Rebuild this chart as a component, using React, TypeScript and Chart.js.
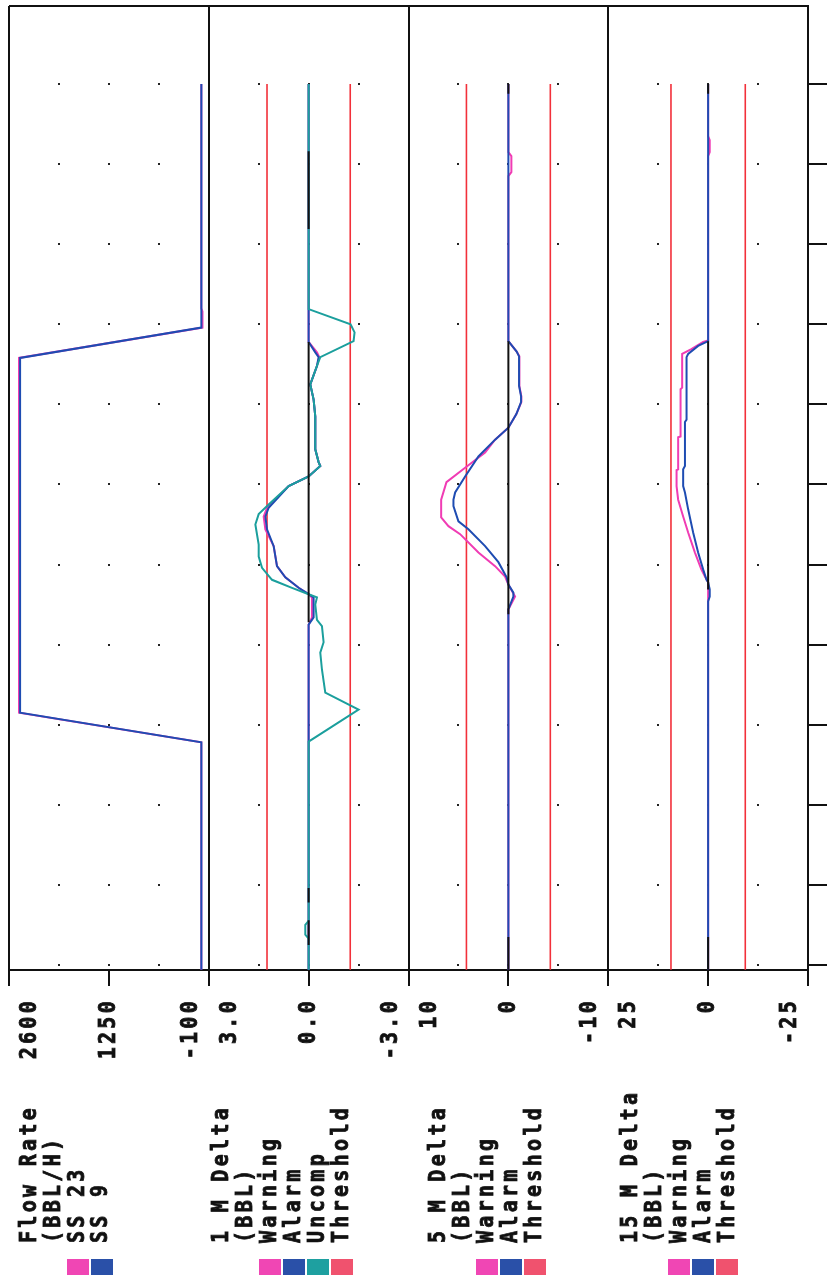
import React, { useEffect, useRef } from 'react';
import { Chart, registerables } from 'chart.js';

Chart.register(...registerables);

// ---------- time axis (grid units, 0 = bottom) ----------
const timeTicks = [0, 1, 2, 3, 4, 5, 6, 7, 8, 9, 10, 11];
const timeMin = -0.0625;
const timeMax = 11.975;

// ---------- Panel 1: Flow Rate (BBL/H) ----------
const flowTickValues = [2600, 1250, -100];
const flowTickLabels = ['2600', '1250', '-100'];
const flowTimeSS23 = [11, 8.2, 8.16, 7.96, 7.58, 3.15, 2.78, -0.06];
const flowSS23 = [0, 0, -15, -15, 2465, 2465, 0, 0];
const flowTimeSS9 = [11, 7.96, 7.58, 3.15, 2.78, -0.06];
const flowSS9 = [0, 0, 2450, 2450, 0, 0];

// ---------- Panel 2: 1 M Delta (BBL) ----------
const d1TickValues = [3, 0, -3];
const d1TickLabels = ['3.0', '0.0', '-3.0'];
const d1Threshold = [1.25, -1.25];
const d1WarnTime = [11, 7.78, 7.65, 7.59, 7.48, 7.25, 7.06, 6.85, 6.44, 6.28, 6.23, 6.1, 5.98, 5.71, 5.6, 5.44, 5.23, 4.98, 4.84, 4.71, 4.63, 4.59, 4.34, 4.25, -0.06];
const d1Warning = [0, 0, -0.25, -0.32, -0.25, -0.05, -0.15, -0.2, -0.2, -0.3, -0.35, 0, 0.6, 1.25, 1.35, 1.3, 1.05, 0.95, 0.7, 0.3, 0, -0.1, -0.1, 0, 0];
const d1AlarmTime = [11, 7.78, 7.65, 7.59, 7.48, 7.25, 7.06, 6.85, 6.44, 6.28, 6.23, 6.1, 5.98, 5.71, 5.6, 5.44, 5.23, 4.98, 4.84, 4.71, 4.63, 4.59, 4.34, 4.25, -0.06];
const d1Alarm = [0, 0, -0.2, -0.3, -0.25, -0.05, -0.15, -0.2, -0.2, -0.3, -0.35, 0, 0.6, 1.2, 1.3, 1.25, 1.05, 0.95, 0.7, 0.3, 0, -0.15, -0.15, 0, 0];
const d1UncompTime = [11, 8.19, 8.0, 7.9, 7.79, 7.59, 7.48, 7.25, 7.06, 6.85, 6.44, 6.28, 6.23, 6.1, 5.98, 5.75, 5.63, 5.5, 5.25, 5.1, 4.96, 4.81, 4.71, 4.63, 4.59, 4.5, 4.31, 4.23, 4.03, 3.9, 3.69, 3.4, 3.19, 2.79, 0.55, 0.5, 0.38, 0.33, -0.06];
const d1Uncomp = [0, 0, -1.26, -1.38, -1.35, -0.35, -0.25, -0.05, -0.15, -0.2, -0.2, -0.3, -0.35, 0, 0.6, 1.2, 1.5, 1.6, 1.5, 1.5, 1.4, 1.1, 0.5, 0, -0.25, -0.2, -0.25, -0.4, -0.45, -0.35, -0.4, -0.5, -1.5, 0, 0, 0.1, 0.1, 0, 0];
const d1ZeroSegments = [[10.16, 9.19], [7.78, 4.28], [0.96, 0.78], [0.56, 0.25]];

// ---------- Panel 3: 5 M Delta (BBL) ----------
const d5TickValues = [10, 0, -10];
const d5TickLabels = ['10', '0', '-10'];
const d5Threshold = [4.2, -4.2];
const d5WarnTime = [11, 10.15, 10.1, 9.9, 9.85, 7.79, 7.66, 7.6, 7.23, 7.1, 7.03, 6.88, 6.71, 6.56, 6.4, 6.21, 6.03, 5.81, 5.59, 5.48, 5.38, 5.15, 4.98, 4.85, 4.75, 4.6, 4.44, -0.06];
const d5Warning = [0, 0, -0.3, -0.3, 0, 0, -0.83, -1.1, -1.1, -1.3, -1.3, -0.8, 0, 1.33, 2.33, 4.33, 6.2, 6.73, 6.73, 6.0, 4.83, 3.0, 1.33, 0.33, 0, -0.67, 0, 0];
const d5AlarmTime = [11, 7.79, 7.66, 7.6, 7.23, 7.1, 7.03, 6.88, 6.71, 6.56, 6.35, 6.1, 5.9, 5.81, 5.73, 5.54, 5.44, 5.23, 5.03, 4.84, 4.75, 4.65, 4.6, 4.44, -0.06];
const d5Alarm = [0, 0, -0.83, -1.07, -1.07, -1.27, -1.27, -0.8, 0, 1.33, 3.0, 4.33, 5.33, 5.5, 5.5, 5.0, 4.0, 2.33, 1.0, 0.17, 0, -0.5, -0.5, 0, 0];
const d5ZeroSegments = [[11, 10.88], [7.79, 4.38], [0.35, -0.06]];

// ---------- Panel 4: 15 M Delta (BBL) ----------
const d15TickValues = [25, 0, -25];
const d15TickLabels = ['25', '0', '-25'];
const d15Threshold = [9.3, -9.3];
const d15WarnTime = [11, 10.35, 10.3, 10.15, 10.1, 7.8, 7.78, 7.69, 7.63, 7.21, 7.19, 6.6, 6.59, 6.19, 6.18, 5.98, 5.81, 5.6, 5.4, 5.15, 4.94, 4.85, 4.78, -0.06];
const d15Warning = [0, 0, -0.4, -0.4, 0, 0, 1.25, 4.2, 6.5, 6.5, 6.9, 6.9, 7.5, 7.5, 7.9, 7.9, 7.5, 6.25, 5.0, 3.3, 1.7, 0.8, 0, 0];
const d15AlarmTime = [11, 7.79, 7.73, 7.63, 7.59, 6.81, 6.78, 6.23, 6.19, 5.98, 5.9, 5.69, 5.4, 5.15, 4.94, 4.81, 4.78, 4.69, 4.6, 4.54, -0.06];
const d15Alarm = [0, 0, 2.5, 5, 5.4, 5.4, 5.8, 5.8, 6.25, 6.25, 5.8, 5.0, 3.75, 2.5, 1.25, 0.4, 0, -0.4, -0.4, 0, 0];
const d15ZeroSegments = [[11, 10.88], [7.79, 4.69], [0.35, -0.06]];

const thresholdTime = [11, -0.06];

// ---------- legends ----------
const flowLegend = ['Flow Rate', '(BBL/H)', 'SS 23', 'SS 9'];
const d1Legend = ['1 M Delta', '(BBL)', 'Warning', 'Alarm', 'Uncomp', 'Threshold'];
const d5Legend = ['5 M Delta', '(BBL)', 'Warning', 'Alarm', 'Threshold'];
const d15Legend = ['15 M Delta', '(BBL)', 'Warning', 'Alarm', 'Threshold'];

const PINK = '#f03cb4';
const BLUE = '#1e4cb2';
const TEAL = '#1b9f9d';
const RED = '#f2303a';
const SW_PINK = '#f046b4';
const SW_BLUE = '#2a50a8';
const SW_TEAL = '#1ea0a0';
const SW_RED = '#f0526e';

const flowSwatches = [SW_PINK, SW_BLUE];
const d1Swatches = [SW_PINK, SW_BLUE, SW_TEAL, SW_RED];
const d5Swatches = [SW_PINK, SW_BLUE, SW_RED];
const d15Swatches = [SW_PINK, SW_BLUE, SW_RED];

const FONT = 'bold 20px "DejaVu Sans Mono"';

const pts = (times: number[], vals: number[]) => times.map((t, i) => ({ x: vals[i], y: t }));

const line = (axis: string, times: number[], vals: number[], color: string, width = 2) => ({
  xAxisID: axis,
  yAxisID: 'y',
  data: pts(times, vals),
  borderColor: color,
  borderWidth: width,
  pointRadius: 0,
  tension: 0,
  fill: false,
});

const zeroLines = (axis: string, segs: number[][]) =>
  segs.map((s) => line(axis, s, [0, 0], '#111111', 2));

const thresholds = (axis: string, thr: number[]) =>
  thr.map((v) => line(axis, thresholdTime, [v, v], RED, 1.6));

const panelAxes = ['x1', 'x2', 'x3', 'x4'];
const panelTicks = [
  { values: flowTickValues, labels: flowTickLabels },
  { values: d1TickValues, labels: d1TickLabels },
  { values: d5TickValues, labels: d5TickLabels },
  { values: d15TickValues, labels: d15TickLabels },
];
const panelLegends = [
  { lines: flowLegend, x0: 30, step: 23.7, swatches: flowSwatches, sx: 67 },
  { lines: d1Legend, x0: 222, step: 24, swatches: d1Swatches, sx: 259 },
  { lines: d5Legend, x0: 439, step: 24, swatches: d5Swatches, sx: 476 },
  { lines: d15Legend, x0: 631, step: 24.2, swatches: d15Swatches, sx: 668 },
];

const xAxis = (min: number, max: number, values: number[]) => ({
  type: 'linear',
  axis: 'x',
  position: 'bottom',
  stack: 'panels',
  stackWeight: 1,
  reverse: true,
  min,
  max,
  afterBuildTicks: (scale: any) => {
    scale.ticks = values.map((v) => ({ value: v }));
  },
  ticks: { display: false },
  grid: { display: true, drawOnChartArea: false, drawTicks: true, tickLength: 16, color: '#111', lineWidth: 2 },
  border: { display: true, color: '#111', width: 2 },
});

const drawVText = (ctx: any, txt: string, x: number, y: number, align: string) => {
  ctx.save();
  ctx.translate(x, y);
  ctx.rotate(-Math.PI / 2);
  ctx.scale(1, 1.18);
  ctx.textAlign = align;
  ctx.textBaseline = 'middle';
  ctx.fillText(txt, 0, 0);
  ctx.strokeText(txt, 0, 0);
  ctx.restore();
};

const framePlugin = {
  id: 'frame',
  beforeDatasetsDraw(chart: any) {
    const ctx = chart.ctx;
    const ys = chart.scales.y;
    ctx.save();
    ctx.fillStyle = '#222';
    panelAxes.forEach((id) => {
      const s = chart.scales[id];
      for (let k = 1; k <= 3; k++) {
        const x = s.left + (k * (s.right - s.left)) / 4;
        timeTicks.forEach((t) => {
          const y = ys.getPixelForValue(t);
          ctx.fillRect(Math.round(x) - 1, Math.round(y) - 1, 2, 2);
        });
      }
    });
    ctx.restore();
  },
  afterDraw(chart: any) {
    const ctx = chart.ctx;
    const a = chart.chartArea;
    ctx.save();
    ctx.strokeStyle = '#111';
    ctx.lineWidth = 2;
    ctx.beginPath();
    ctx.moveTo(a.left, a.top);
    ctx.lineTo(a.right, a.top);
    ctx.moveTo(a.left, a.top);
    ctx.lineTo(a.left, a.bottom);
    panelAxes.slice(1).forEach((id) => {
      const x = Math.round(chart.scales[id].left);
      ctx.moveTo(x, a.top);
      ctx.lineTo(x, a.bottom);
    });
    ctx.stroke();

    ctx.fillStyle = '#111';
    ctx.strokeStyle = '#111';
    ctx.lineWidth = 0.7;
    ctx.font = FONT;
    (ctx as any).letterSpacing = '3.3px';

    // tick labels (rotated, reading bottom to top)
    panelAxes.forEach((id, pi) => {
      const s = chart.scales[id];
      const { values, labels } = panelTicks[pi];
      values.forEach((v, i) => {
        let x = s.getPixelForValue(v);
        if (Math.abs(x - s.left) < 2) x += 21;
        else if (Math.abs(x - s.right) < 2) x -= 18;
        drawVText(ctx, labels[i], x, 998, 'right');
      });
    });

    // legends
    panelLegends.forEach((lg) => {
      lg.lines.forEach((txt, i) => {
        drawVText(ctx, txt, lg.x0 + i * lg.step, 1243, 'left');
      });
      lg.swatches.forEach((c, i) => {
        ctx.fillStyle = c;
        ctx.fillRect(lg.sx + i * 24, 1259, 22, 16);
      });
      ctx.fillStyle = '#111';
    });
    ctx.restore();
  },
};

export default function App() {
  const ref = useRef<HTMLCanvasElement | null>(null);
  useEffect(() => {
    if (!ref.current) return;
    // listed bottom layer first; reversed below because Chart.js paints the first dataset on top
    const layers: any[] = [
      line('x1', flowTimeSS23, flowSS23, PINK),
      line('x1', flowTimeSS9, flowSS9, BLUE),
      ...thresholds('x2', d1Threshold),
      line('x2', d1WarnTime, d1Warning, PINK),
      line('x2', d1AlarmTime, d1Alarm, BLUE),
      line('x2', d1UncompTime, d1Uncomp, TEAL),
      ...zeroLines('x2', d1ZeroSegments),
      ...thresholds('x3', d5Threshold),
      line('x3', d5WarnTime, d5Warning, PINK),
      line('x3', d5AlarmTime, d5Alarm, BLUE),
      ...zeroLines('x3', d5ZeroSegments),
      ...thresholds('x4', d15Threshold),
      line('x4', d15WarnTime, d15Warning, PINK),
      line('x4', d15AlarmTime, d15Alarm, BLUE),
      ...zeroLines('x4', d15ZeroSegments),
    ];
    const datasets = layers.slice().reverse();
    const chart = new Chart(ref.current, {
      type: 'line',
      data: { datasets },
      options: {
        responsive: false,
        animation: false,
        indexAxis: 'y',
        layout: { padding: { left: 9, top: 6, right: 0, bottom: 295 } },
        plugins: { legend: { display: false }, tooltip: { enabled: false } },
        events: [],
        scales: {
          x1: xAxis(-100, 2600, flowTickValues),
          x2: xAxis(-3, 3, d1TickValues),
          x3: xAxis(-10, 10, d5TickValues),
          x4: xAxis(-25, 25, d15TickValues),
          y: {
            type: 'linear',
            axis: 'y',
            position: 'right',
            min: timeMin,
            max: timeMax,
            afterBuildTicks: (scale: any) => {
              scale.ticks = timeTicks.map((v) => ({ value: v }));
            },
            ticks: { display: false },
            grid: { display: true, drawOnChartArea: false, drawTicks: true, tickLength: 19, color: '#111', lineWidth: 2 },
            border: { display: true, color: '#111', width: 2 },
          },
        },
      } as any,
      plugins: [framePlugin],
    });
    return () => chart.destroy();
  }, []);
  return (
    <div style={{ position: 'absolute', left: 0, top: 0, width: 827, height: 1281, background: '#fff' }}>
      <canvas ref={ref} width={827} height={1281} style={{ display: 'block' }} />
    </div>
  );
}
